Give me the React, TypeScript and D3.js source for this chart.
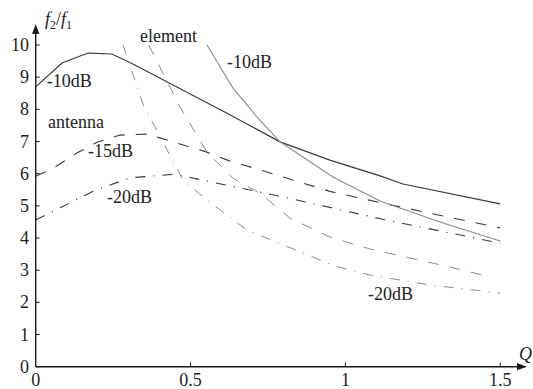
import React from "react";
import * as d3 from "d3";

const W = 533;
const H = 389;

// Q values and f2/f1 values per curve
const antenna10Q = [0, 0.085, 0.169, 0.246, 0.314, 0.627, 0.789, 0.95, 1.112, 1.186, 1.5];
const antenna10V = [8.7, 9.44, 9.75, 9.72, 9.41, 7.83, 6.99, 6.42, 5.93, 5.68, 5.06];

const antenna15Q = [0, 0.056, 0.133, 0.198, 0.272, 0.36, 0.553, 0.627, 0.724, 0.95, 1.112, 1.5];
const antenna15V = [5.92, 6.17, 6.64, 6.98, 7.2, 7.23, 6.67, 6.39, 6.12, 5.45, 5.1, 4.31];

const antenna20Q = [0, 0.185, 0.304, 0.443, 0.476, 0.627, 0.789, 1.112, 1.5];
const antenna20V = [4.56, 5.45, 5.87, 5.98, 5.93, 5.62, 5.3, 4.6, 3.84];

const element10Q = [0.553, 0.637, 0.715, 0.789, 0.961, 1.112, 1.305, 1.5];
const element10V = [10.0, 8.66, 7.76, 6.99, 5.89, 5.15, 4.5, 3.91];

const element15Q = [0.365, 0.466, 0.553, 0.637, 0.724, 0.821, 0.95, 1.079, 1.337, 1.467];
const element15V = [10.0, 8.07, 6.67, 5.86, 5.39, 4.62, 4.03, 3.66, 3.1, 2.79];

const element20Q = [0.282, 0.347, 0.476, 0.553, 0.682, 0.966, 1.079, 1.273, 1.5];
const element20V = [10.0, 8.14, 5.8, 5.18, 4.25, 3.13, 2.85, 2.54, 2.29];

const yTicks = [0, 1, 2, 3, 4, 5, 6, 7, 8, 9, 10];
const xTicks = [0, 0.5, 1, 1.5];
const xTickLabels = ["0", "0.5", "1", "1.5"];

const labelTexts = ["-10dB", "antenna", "-15dB", "-20dB", "element", "-10dB", "-20dB"];
const labelQ = [0.0355, 0.0397, 0.169, 0.23, 0.337, 0.618, 1.073];
const labelV = [8.69, 7.42, 6.52, 5.09, 10.09, 9.29, 2.07];

const x = d3.scaleLinear().domain([0, 1.5]).range([35.7, 35.7 + 1.5 * 309.7]);
const y = d3.scaleLinear().domain([0, 10]).range([366.7, 366.7 - 321.7]);

const FONT = "'Liberation Serif', 'Times New Roman', serif";
const FS = 18;
const DARK = "#3a3a3a";
const GRAY = "#8c8c8c";

function pts(q: number[], v: number[]): [number, number][] {
  return q.map((d, i) => [d, v[i]]);
}

const line = d3
  .line<[number, number]>()
  .x((d) => x(d[0]))
  .y((d) => y(d[1]))
  .curve(d3.curveLinear);

const series = [
  { q: antenna10Q, v: antenna10V, color: DARK, dash: "none", w: 1.2 },
  { q: antenna15Q, v: antenna15V, color: DARK, dash: "11 11", w: 1.1 },
  { q: antenna20Q, v: antenna20V, color: DARK, dash: "10 8 1.2 8", w: 1.1 },
  { q: element10Q, v: element10V, color: GRAY, dash: "none", w: 1.1 },
  { q: element15Q, v: element15V, color: GRAY, dash: "11 11", w: 1.0 },
  { q: element20Q, v: element20V, color: GRAY, dash: "10 8 1.2 8", w: 1.0 },
];

const textStyle = { fontFamily: FONT };

export default function App() {
  const x0 = x(0);
  const y0 = y(0);
  const yTop = 24;
  const xRight = 527;
  return (
    <svg
      width={W}
      height={H}
      style={{ position: "fixed", left: 0, top: 0, background: "#fff", fontFamily: FONT }}
    >
      {series.map((s, i) => (
        <path
          key={i}
          d={line(pts(s.q, s.v)) || ""}
          fill="none"
          stroke={s.color}
          strokeWidth={s.w}
          strokeDasharray={s.dash}
        />
      ))}

      {/* axes */}
      <line x1={x0} y1={y0} x2={x0} y2={yTop + 8} stroke="#1a1a1a" strokeWidth={1.4} />
      <path
        d={`M${x0},${yTop} L${x0 - 3.6},${yTop + 10} L${x0 + 3.6},${yTop + 10} Z`}
        fill="#1a1a1a"
      />
      <line x1={x0} y1={y0} x2={xRight - 8} y2={y0} stroke="#1a1a1a" strokeWidth={1.4} />
      <path
        d={`M${xRight},${y0} L${xRight - 10},${y0 - 3.6} L${xRight - 10},${y0 + 3.6} Z`}
        fill="#1a1a1a"
      />

      {yTicks.map((t) => (
        <g key={"y" + t}>
          <line x1={x0} x2={x0 + 4} y1={y(t)} y2={y(t)} stroke="#1a1a1a" strokeWidth={1} />
          <text x={29} y={y(t) + 6} textAnchor="end" fontSize={FS} fill="#222" style={textStyle}>
            {t}
          </text>
        </g>
      ))}
      {xTicks.map((t, i) => (
        <g key={"x" + t}>
          {t > 0 && (
            <line x1={x(t)} x2={x(t)} y1={y0} y2={y0 - 4} stroke="#1a1a1a" strokeWidth={1} />
          )}
          <text x={x(t)} y={386} textAnchor="middle" fontSize={FS} fill="#222" style={textStyle}>
            {xTickLabels[i]}
          </text>
        </g>
      ))}

      {/* axis titles */}
      <text x={45} y={25} fontSize={FS} fill="#222" style={textStyle}>
        <tspan fontStyle="italic">f</tspan>
        <tspan fontSize={12} dy={4}>2</tspan>
        <tspan dy={-4}>/</tspan>
        <tspan fontStyle="italic">f</tspan>
        <tspan fontSize={12} dy={4}>1</tspan>
      </text>
      <text x={519} y={360} fontSize={FS} fontStyle="italic" fill="#222" style={textStyle}>
        Q
      </text>

      {labelTexts.map((t, i) => (
        <text
          key={"l" + i}
          x={x(labelQ[i])}
          y={y(labelV[i])}
          fontSize={FS}
          fill="#222"
          style={textStyle}
        >
          {t}
        </text>
      ))}
    </svg>
  );
}
